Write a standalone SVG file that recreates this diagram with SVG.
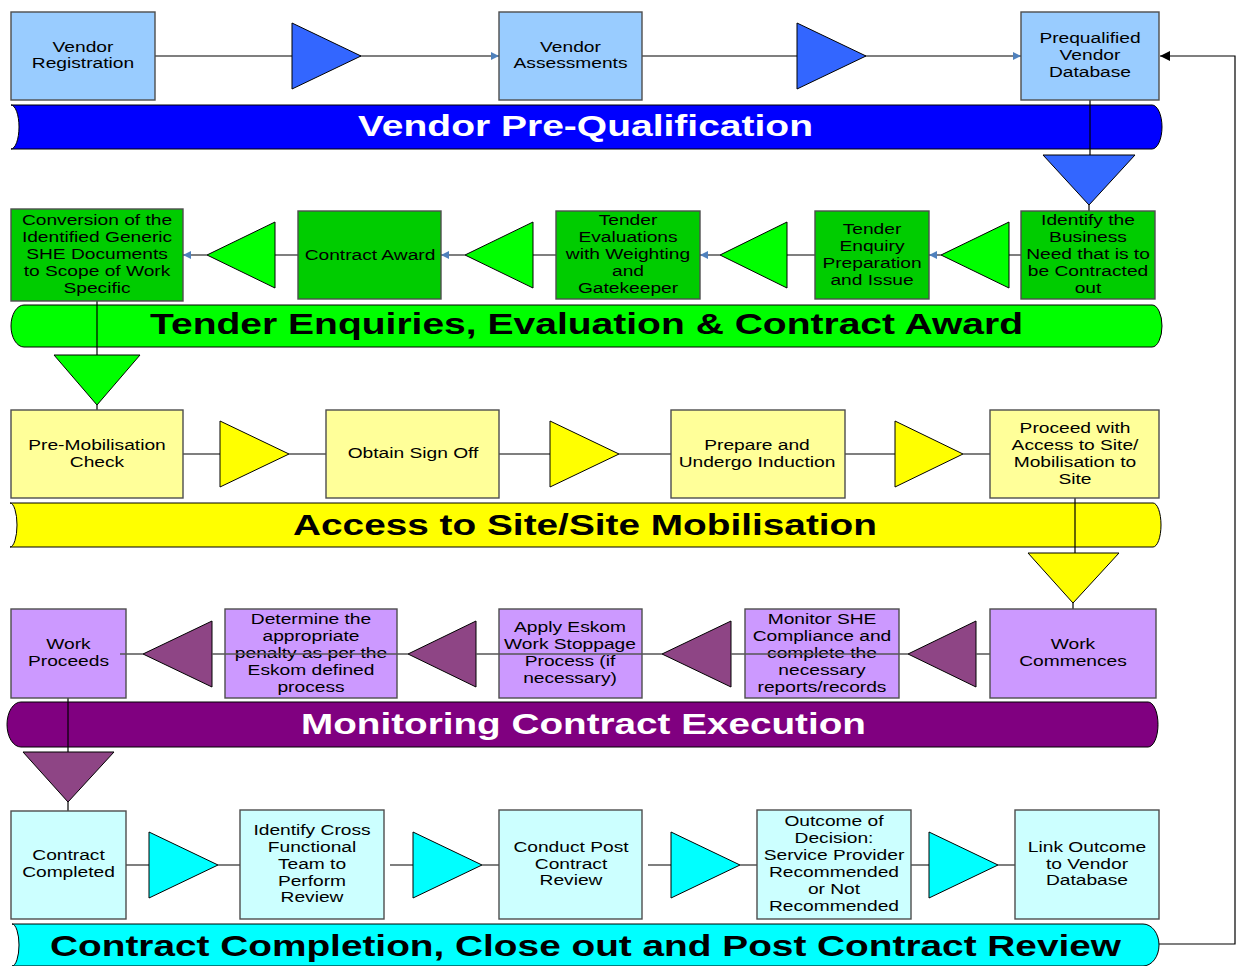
<svg xmlns="http://www.w3.org/2000/svg" width="1239" height="966" viewBox="0 0 1239 966">
<style>
.box{stroke:#4d4d4d;stroke-width:1.4}
.tri{stroke:#000;stroke-width:1}
.bx{font-family:"Liberation Sans",Arial,sans-serif;font-size:14px;fill:#000;text-anchor:middle}
.bn{font-family:"Liberation Sans",Arial,sans-serif;font-size:29.5px;font-weight:bold;text-anchor:middle}
.c1{fill:#99CCFF}.t1{fill:#3366FF}
.c2{fill:#00CC00}.t2{fill:#00FF00}
.c3{fill:#FFFF99}.t3{fill:#FFFF00}
.c4{fill:#CC99FF}.t4{fill:#8E4585}
.c5{fill:#CCFFFF}.t5{fill:#00FFFF}
.ln{fill:none;stroke:#000;stroke-width:1.2}
.lg{fill:none;stroke:#555;stroke-width:1.4}
</style>
<defs>
<marker id="ab" viewBox="0 0 10 10" refX="10" refY="5" markerWidth="10" markerHeight="8" markerUnits="userSpaceOnUse" orient="auto"><path d="M0,0 L10,5 L0,10 Z" fill="#4F81BD"/></marker>
<marker id="ak" viewBox="0 0 10 10" refX="10" refY="5" markerWidth="12" markerHeight="10" markerUnits="userSpaceOnUse" orient="auto"><path d="M0,0 L10,5 L0,10 Z" fill="#000"/></marker>
</defs>

<!-- banners -->
<g id="banner1">
<path d="M11,105 L1152,105 A10,22 0 0 1 1152,149 L11,149 A8,22 0 0 0 11,105 Z" fill="#0000FF" stroke="#000" stroke-width="1"/>
<text class="bn" x="585.5" y="136" fill="#fff" textLength="455" lengthAdjust="spacingAndGlyphs">Vendor Pre-Qualification</text>
</g>
<g id="banner2">
<path d="M24,305 L1152,305 A10,21 0 0 1 1152,347 L24,347 A13,21 0 0 1 24,305 Z" fill="#00FF00" stroke="#000" stroke-width="1"/>
<text class="bn" x="586.5" y="334" fill="#000" textLength="873" lengthAdjust="spacingAndGlyphs">Tender Enquiries, Evaluation &amp; Contract Award</text>
</g>
<g id="banner3">
<path d="M10,503 L1153,503 A8,22 0 0 1 1153,547 L10,547 A7,22 0 0 0 10,503 Z" fill="#FFFF00" stroke="#000" stroke-width="1"/>
<text class="bn" x="585" y="535" fill="#000" textLength="584" lengthAdjust="spacingAndGlyphs">Access to Site/Site Mobilisation</text>
</g>
<g id="banner4">
<path d="M21,702 L1148,702 A10,22.5 0 0 1 1148,747 L21,747 A14,22.5 0 0 1 21,702 Z" fill="#800080" stroke="#000" stroke-width="1"/>
<text class="bn" x="583.5" y="734" fill="#fff" textLength="565" lengthAdjust="spacingAndGlyphs">Monitoring Contract Execution</text>
</g>
<g id="banner5">
<path d="M12,924 L1143,924 A16,21 0 0 1 1143,966 L12,966 A7,21 0 0 0 12,924 Z" fill="#00FFFF" stroke="#000" stroke-width="1"/>
<text class="bn" x="585.5" y="956" fill="#000" textLength="1071" lengthAdjust="spacingAndGlyphs">Contract Completion, Close out and Post Contract Review</text>
</g>

<!-- connectors -->
<g id="connectors">
<path class="ln" d="M155,56 H499" marker-end="url(#ab)"/>
<path class="ln" d="M642,56 H1021" marker-end="url(#ab)"/>
<path class="ln" d="M1159,944 H1235 V56 H1160" marker-end="url(#ak)"/>
<path class="ln" d="M1090,100 V155 M1089,205 V211"/>
<path class="lg" d="M1021,255 H1009 M941,255 H929" marker-end="url(#ab)"/>
<path class="lg" d="M815,255 H787 M720,255 H700" marker-end="url(#ab)"/>
<path class="lg" d="M556,255 H533 M465,255 H441" marker-end="url(#ab)"/>
<path class="lg" d="M298,255 H275 M207,255 H183" marker-end="url(#ab)"/>
<path class="ln" d="M97,301 V355 M97,405 V410"/>
<path class="lg" d="M183,454 H220 M289,454 H326 M499,454 H550 M619,454 H671 M845,454 H895 M963,454 H990"/>
<path class="ln" d="M1075,498 V553 M1073,603 V609"/>
<path class="ln" d="M68,698 V752 M68,802 V811"/>
<path class="lg" d="M126,865 H149 M218,865 H240 M390,865 H413 M482,865 H505 M648,865 H671 M740,865 H757 M907,865 H929 M998,865 H1022"/>
</g>

<!-- row 1 -->
<g id="vendor-registration"><rect class="box c1" x="11" y="12" width="144" height="88"/>
<text class="bx" transform="translate(83 0) scale(1.37 1)"><tspan x="0" y="52">Vendor</tspan><tspan x="0" y="68">Registration</tspan></text></g>
<g id="tri-1a"><polygon class="tri t1" points="292,23 361,56 292,89"/></g>
<g id="vendor-assessments"><rect class="box c1" x="499" y="12" width="143" height="88"/>
<text class="bx" transform="translate(570.5 0) scale(1.37 1)"><tspan x="0" y="52">Vendor</tspan><tspan x="0" y="68">Assessments</tspan></text></g>
<g id="tri-1b"><polygon class="tri t1" points="797,23 866,56 797,89"/></g>
<g id="prequalified-db"><rect class="box c1" x="1021" y="12" width="138" height="88"/>
<text class="bx" transform="translate(1090 0) scale(1.37 1)"><tspan x="0" y="43">Prequalified</tspan><tspan x="0" y="60">Vendor</tspan><tspan x="0" y="77">Database</tspan></text></g>
<g id="tri-down-1"><polygon class="tri t1" points="1043,155 1135,155 1089,205"/></g>

<!-- row 2 -->
<g id="identify-need"><rect class="box c2" x="1021" y="211" width="134" height="88"/>
<text class="bx" transform="translate(1088 0) scale(1.37 1)"><tspan x="0" y="225">Identify the</tspan><tspan x="0" y="242">Business</tspan><tspan x="0" y="259">Need that is to</tspan><tspan x="0" y="276">be Contracted</tspan><tspan x="0" y="293">out</tspan></text></g>
<g id="tri-2a"><polygon class="tri t2" points="941,255 1009,222 1009,288"/></g>
<g id="tender-enquiry"><rect class="box c2" x="815" y="211" width="114" height="88"/>
<text class="bx" transform="translate(872 0) scale(1.37 1)"><tspan x="0" y="234">Tender</tspan><tspan x="0" y="251">Enquiry</tspan><tspan x="0" y="268">Preparation</tspan><tspan x="0" y="285">and Issue</tspan></text></g>
<g id="tri-2b"><polygon class="tri t2" points="720,255 787,222 787,288"/></g>
<g id="tender-evaluations"><rect class="box c2" x="556" y="211" width="144" height="88"/>
<text class="bx" transform="translate(628 0) scale(1.37 1)"><tspan x="0" y="225">Tender</tspan><tspan x="0" y="242">Evaluations</tspan><tspan x="0" y="259">with Weighting</tspan><tspan x="0" y="276">and</tspan><tspan x="0" y="293">Gatekeeper</tspan></text></g>
<g id="tri-2c"><polygon class="tri t2" points="465,255 533,222 533,288"/></g>
<g id="contract-award"><rect class="box c2" x="298" y="211" width="143" height="88"/>
<text class="bx" transform="translate(370 0) scale(1.37 1)"><tspan x="0" y="260">Contract Award</tspan></text></g>
<g id="tri-2d"><polygon class="tri t2" points="207,255 275,222 275,288"/></g>
<g id="conversion"><rect class="box c2" x="11" y="209" width="172" height="92"/>
<text class="bx" transform="translate(97 0) scale(1.37 1)"><tspan x="0" y="225">Conversion of the</tspan><tspan x="0" y="242">Identified Generic</tspan><tspan x="0" y="259">SHE Documents</tspan><tspan x="0" y="276">to Scope of Work</tspan><tspan x="0" y="293">Specific</tspan></text></g>
<g id="tri-down-2"><polygon class="tri t2" points="54,355 140,355 97,405"/></g>

<!-- row 3 -->
<g id="pre-mobilisation"><rect class="box c3" x="11" y="410" width="172" height="88"/>
<text class="bx" transform="translate(97 0) scale(1.37 1)"><tspan x="0" y="450">Pre-Mobilisation</tspan><tspan x="0" y="467">Check</tspan></text></g>
<g id="tri-3a"><polygon class="tri t3" points="220,421 289,454 220,487"/></g>
<g id="obtain-sign-off"><rect class="box c3" x="326" y="410" width="173" height="88"/>
<text class="bx" transform="translate(413 0) scale(1.37 1)"><tspan x="0" y="458">Obtain Sign Off</tspan></text></g>
<g id="tri-3b"><polygon class="tri t3" points="550,421 619,454 550,487"/></g>
<g id="induction"><rect class="box c3" x="671" y="410" width="174" height="88"/>
<text class="bx" transform="translate(757 0) scale(1.37 1)"><tspan x="0" y="450">Prepare and</tspan><tspan x="0" y="467">Undergo Induction</tspan></text></g>
<g id="tri-3c"><polygon class="tri t3" points="895,421 963,454 895,487"/></g>
<g id="proceed-access"><rect class="box c3" x="990" y="410" width="169" height="88"/>
<text class="bx" transform="translate(1075 0) scale(1.37 1)"><tspan x="0" y="433">Proceed with</tspan><tspan x="0" y="450">Access to Site/</tspan><tspan x="0" y="467">Mobilisation to</tspan><tspan x="0" y="484">Site</tspan></text></g>
<g id="tri-down-3"><polygon class="tri t3" points="1028,553 1119,553 1073,603"/></g>

<!-- row 4 -->
<g id="work-commences"><rect class="box c4" x="990" y="609" width="166" height="89"/>
<text class="bx" transform="translate(1073 0) scale(1.37 1)"><tspan x="0" y="649">Work</tspan><tspan x="0" y="666">Commences</tspan></text></g>
<g id="tri-4a"><polygon class="tri t4" points="908,654 976,621 976,687"/></g>
<g id="monitor-she"><rect class="box c4" x="745" y="609" width="154" height="89"/>
<text class="bx" transform="translate(822 0) scale(1.37 1)"><tspan x="0" y="624">Monitor SHE</tspan><tspan x="0" y="641">Compliance and</tspan><tspan x="0" y="658">complete the</tspan><tspan x="0" y="675">necessary</tspan><tspan x="0" y="692">reports/records</tspan></text></g>
<g id="tri-4b"><polygon class="tri t4" points="662,654 731,621 731,687"/></g>
<g id="apply-stoppage"><rect class="box c4" x="499" y="609" width="143" height="89"/>
<text class="bx" transform="translate(570 0) scale(1.37 1)"><tspan x="0" y="632">Apply Eskom</tspan><tspan x="0" y="649">Work Stoppage</tspan><tspan x="0" y="666">Process (if</tspan><tspan x="0" y="683">necessary)</tspan></text></g>
<g id="tri-4c"><polygon class="tri t4" points="408,654 476,621 476,687"/></g>
<g id="determine-penalty"><rect class="box c4" x="225" y="609" width="172" height="89"/>
<text class="bx" transform="translate(311 0) scale(1.37 1)"><tspan x="0" y="624">Determine the</tspan><tspan x="0" y="641">appropriate</tspan><tspan x="0" y="658">penalty as per the</tspan><tspan x="0" y="675">Eskom defined</tspan><tspan x="0" y="692">process</tspan></text></g>
<g id="tri-4d"><polygon class="tri t4" points="143,654 212,621 212,687"/></g>
<g id="work-proceeds"><rect class="box c4" x="11" y="609" width="115" height="89"/>
<text class="bx" transform="translate(68.5 0) scale(1.37 1)"><tspan x="0" y="649">Work</tspan><tspan x="0" y="666">Proceeds</tspan></text></g>
<g id="tri-down-4"><polygon class="tri t4" points="23,752 114,752 68,802"/></g>

<!-- row 4 connectors drawn over boxes -->
<g id="connectors-row4">
<path class="lg" d="M120,654 H143 M212,654 H408 M476,654 H662 M731,654 H908 M976,654 H990"/>
</g>

<!-- row 5 -->
<g id="contract-completed"><rect class="box c5" x="11" y="811" width="115" height="108"/>
<text class="bx" transform="translate(68.5 0) scale(1.37 1)"><tspan x="0" y="860">Contract</tspan><tspan x="0" y="877">Completed</tspan></text></g>
<g id="tri-5a"><polygon class="tri t5" points="149,832 218,865 149,898"/></g>
<g id="identify-team"><rect class="box c5" x="240" y="810" width="144" height="109"/>
<text class="bx" transform="translate(312 0) scale(1.37 1)"><tspan x="0" y="835">Identify Cross</tspan><tspan x="0" y="852">Functional</tspan><tspan x="0" y="869">Team to</tspan><tspan x="0" y="886">Perform</tspan><tspan x="0" y="902">Review</tspan></text></g>
<g id="tri-5b"><polygon class="tri t5" points="413,832 482,865 413,898"/></g>
<g id="post-contract-review"><rect class="box c5" x="499" y="810" width="143" height="109"/>
<text class="bx" transform="translate(571 0) scale(1.37 1)"><tspan x="0" y="852">Conduct Post</tspan><tspan x="0" y="869">Contract</tspan><tspan x="0" y="885">Review</tspan></text></g>
<g id="tri-5c"><polygon class="tri t5" points="671,832 740,865 671,898"/></g>
<g id="outcome-decision"><rect class="box c5" x="757" y="810" width="154" height="109"/>
<text class="bx" transform="translate(834 0) scale(1.37 1)"><tspan x="0" y="826">Outcome of</tspan><tspan x="0" y="843">Decision:</tspan><tspan x="0" y="860">Service Provider</tspan><tspan x="0" y="877">Recommended</tspan><tspan x="0" y="894">or Not</tspan><tspan x="0" y="911">Recommended</tspan></text></g>
<g id="tri-5d"><polygon class="tri t5" points="929,832 998,865 929,898"/></g>
<g id="link-outcome"><rect class="box c5" x="1015" y="810" width="144" height="109"/>
<text class="bx" transform="translate(1087 0) scale(1.37 1)"><tspan x="0" y="852">Link Outcome</tspan><tspan x="0" y="869">to Vendor</tspan><tspan x="0" y="885">Database</tspan></text></g>
</svg>
